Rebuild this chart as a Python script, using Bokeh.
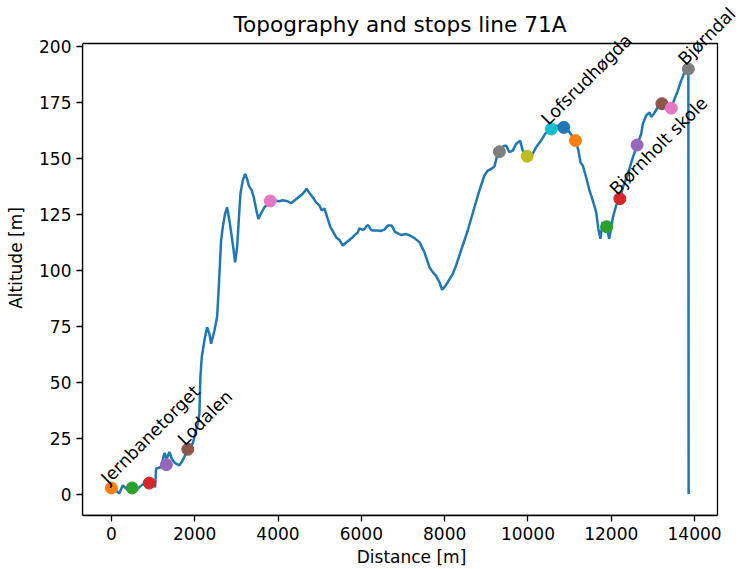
from bokeh.plotting import figure
from bokeh.models import Range1d, FixedTicker, ColumnDataSource, Label, BoxAnnotation
from bokeh.palettes import Category10_10
from bokeh.embed import file_html
from bokeh.resources import INLINE
import math

# ---- data ----
dist = [0, 110, 190, 273, 353, 500, 633, 753, 910, 1033, 1050, 1073, 1193, 1273, 1329,
        1393, 1449, 1529, 1633, 1713, 1834, 1953, 2073, 2113, 2137, 2170, 2234, 2298,
        2354, 2394, 2474, 2538, 2570, 2602, 2634, 2674, 2730, 2778, 2834, 2914, 2970,
        3018, 3058, 3098, 3154, 3210, 3258, 3298, 3370, 3418, 3450, 3482, 3530, 3594,
        3674, 3754, 3815, 3914, 4034, 4114, 4234, 4314, 4394, 4514, 4594, 4690, 4754,
        4834, 4914, 4994, 5050, 5114, 5194, 5258, 5315, 5394, 5474, 5555, 5675, 5794,
        5835, 5914, 5955, 6034, 6075, 6138, 6171, 6234, 6275, 6354, 6395, 6474, 6555,
        6634, 6731, 6811, 6834, 6955, 7075, 7155, 7275, 7395, 7475, 7514, 7555, 7635,
        7715, 7795, 7875, 7939, 7995, 8075, 8195, 8275, 8395, 8555, 8715, 8835, 8955,
        9035, 9115, 9195, 9251, 9315, 9395, 9475, 9555, 9635, 9715, 9811, 9875, 9980,
        10115, 10195, 10315, 10411, 10557, 10701, 10862, 10997, 11141, 11213, 11261,
        11317, 11397, 11477, 11557, 11637, 11690, 11740, 11790, 11890, 11950, 12040,
        12117, 12205, 12278, 12398, 12518, 12620, 12718, 12758, 12838, 12918, 12958,
        13022, 13118, 13215, 13440, 13518, 13598, 13678, 13758, 13850, 13857]
alt = [2.7, 1.6, 0.2, 3.9, 2.4, 2.7, 2.4, 4.3, 4.9, 4.6, 2.9, 11.3, 12.1, 18.3, 15.8,
       18.8, 15.8, 13.8, 12.8, 15.1, 20.0, 22.5, 31.4, 35.9, 52.3, 61.2, 68.7, 74.6,
       71.6, 67.2, 73.1, 79.1, 89.5, 101.4, 113.3, 119.3, 125.3, 128.2, 122.3, 111.9, 103.6,
       110.3, 122.3, 134.2, 140.1, 143.1, 140.9, 137.9, 135.7, 132.7, 129.7, 126.7, 123.0, 125.5,
       128.2, 129.7, 131.0, 131.2, 130.9, 131.3, 130.9, 130.0, 131.2, 133.0, 134.2, 136.4, 134.6,
       132.7, 130.4, 129.0, 126.7, 127.7, 123.0, 119.3, 117.5, 114.8, 113.6, 111.1, 113.0, 114.8,
       115.6, 117.0, 118.8, 118.1, 118.5, 120.0, 120.0, 118.1, 117.8, 117.8, 117.8, 117.6, 118.2,
       120.0, 120.0, 117.1, 117.0, 115.8, 116.2, 115.7, 114.4, 112.6, 109.6, 108.1, 105.9, 101.4,
       99.2, 97.5, 94.7, 91.3, 92.5, 94.7, 98.4, 102.2, 108.9, 117.8, 128.2, 135.7, 142.4,
       144.6, 145.3, 146.4, 150.5, 153.0, 155.3, 155.8, 152.8, 153.5, 156.5, 158.0, 153.5, 151.0,
       152.1, 155.0, 158.0, 161.0, 163.2, 164.7, 163.9, 161.7, 158.0, 153.5, 148.3,
       146.8, 141.6, 135.7, 131.2, 126.0, 118.5, 114.1, 121.5, 119.5, 114.1, 123.7,
       129.0, 132.0, 137.1, 143.1, 150.5, 156.0, 161.0, 165.4, 169.2, 170.6, 168.6,
       170.0, 172.9, 174.5, 172.5, 176.6, 180.3, 184.8, 188.5, 191.0, 0.0]

stop_dist = [0, 500, 910, 1320, 1835, 3815, 9315, 9980, 10560, 10860, 11140, 11890,
             12205, 12620, 13215, 13440, 13850]
stop_alt = [2.7, 2.7, 4.9, 13.1, 20.0, 131.0, 153.0, 151.0, 163.2, 163.9, 158.0, 119.5,
            132.0, 156.0, 174.5, 172.5, 190.0]

label_stops = [0, 4, 8, 12, 16]
label_names = ["Jernbanetorget", "Lodalen", "Lofsrudhøgda", "Bjørnholt skole", "Bjørndal"]

title_text = "Topography and stops line 71A"
x_label = "Distance [m]"
y_label = "Altitude [m]"
x_ticks = [0, 2000, 4000, 6000, 8000, 10000, 12000, 14000]
y_ticks = [0, 25, 50, 75, 100, 125, 150, 175, 200]

# ---- layout geometry ----
W, H = 740, 569
BOX_L, BOX_R, BOX_T, BOX_B = 82, 717, 43, 515      # axes box in pixels
X0, X1 = -693, 14550                                # axes box limits (data)
Y0, Y1 = -9.6, 201.4
ux = (X1 - X0) / (BOX_R - BOX_L)                    # data units per pixel
uy = (Y1 - Y0) / (BOX_B - BOX_T)
# the plotting frame extends to the top/right canvas edges so rotated labels are not clipped
FX1 = X0 + (W - BOX_L) * ux
FY1 = Y0 + BOX_B * uy

FONT = "DejaVu Sans"
p = figure(width=W, height=H, output_backend="svg", toolbar_location=None, title=None,
           x_range=Range1d(X0, FX1), y_range=Range1d(Y0, FY1),
           min_border_left=BOX_L, min_border_right=0, min_border_top=0,
           min_border_bottom=H - BOX_B,
           background_fill_color="white", border_fill_color="white")

p.xgrid.visible = False
p.ygrid.visible = False
p.outline_line_color = None

p.add_layout(BoxAnnotation(left=X0, right=X1, bottom=Y0, top=Y1, fill_alpha=0,
                           fill_color=None, line_color="black", line_width=1.3,
                           line_alpha=1.0, level="overlay"))

p.xaxis.ticker = FixedTicker(ticks=x_ticks)
p.yaxis.ticker = FixedTicker(ticks=y_ticks)
p.xaxis.bounds = (X0, X1)
p.yaxis.bounds = (Y0, Y1)
p.xaxis.axis_label = x_label
p.yaxis.axis_label = y_label
for ax in (p.xaxis[0], p.yaxis[0]):
    ax.axis_line_color = "black"
    ax.axis_line_width = 1.3
    ax.major_tick_line_color = "black"
    ax.major_tick_line_width = 1.3
    ax.major_tick_out = 6
    ax.major_tick_in = 0
    ax.minor_tick_line_color = None
    ax.major_label_text_font = FONT
    ax.major_label_text_font_size = "17px"
    ax.major_label_text_color = "black"
    ax.axis_label_text_font = FONT
    ax.axis_label_text_font_size = "17px"
    ax.axis_label_text_font_style = "normal"
    ax.axis_label_text_color = "black"
p.xaxis.major_label_standoff = 5
p.xaxis.axis_label_standoff = 4
p.yaxis.major_label_standoff = 5
p.yaxis.axis_label_standoff = 10

# title, centred over the axes box
p.add_layout(Label(x=(X0 + X1) / 2, y=Y0 + (BOX_B - 23.5) * uy, text=title_text,
                   text_align="center", text_baseline="alphabetic", text_font=FONT,
                   text_font_size="21.6px", text_color="black"))

p.line(dist, alt, line_color="#1f77b4", line_width=2.5)

palette = list(Category10_10)
colors = [palette[(i + 1) % 10] for i in range(len(stop_dist))]
src = ColumnDataSource(dict(x=stop_dist, y=stop_alt, c=colors))
p.scatter("x", "y", source=src, size=12, fill_color="c", line_color="c")

for i, name in zip(label_stops, label_names):
    p.add_layout(Label(x=stop_dist[i], y=stop_alt[i], text=name, angle=math.pi / 4,
                       text_align="left", text_baseline="bottom", text_font=FONT,
                       text_font_size="17.5px", text_color="black"))

open("out.html", "w").write(file_html(p, INLINE))
